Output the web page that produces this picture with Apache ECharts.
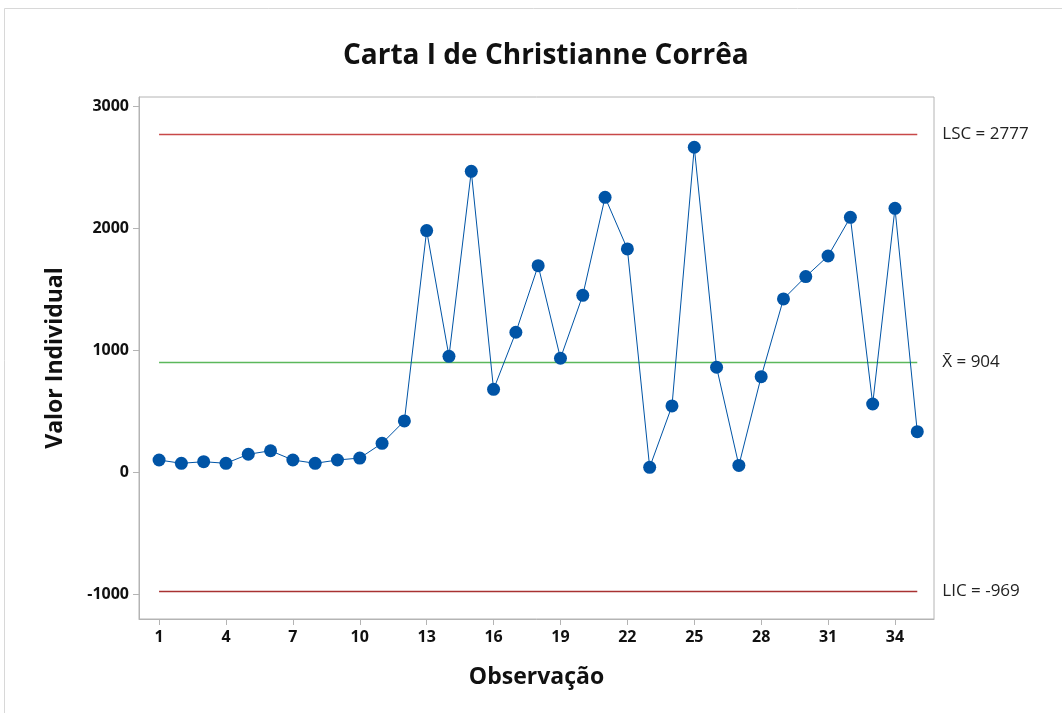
<!DOCTYPE html>
<html>
<head>
<meta charset="utf-8">
<script src="https://cdn.jsdelivr.net/npm/echarts@6/dist/echarts.min.js"></script>
<style>
html, body { margin: 0; padding: 0; background: #fff; }
#main { width: 1062px; height: 713px; }
</style>
</head>
<body>
<div id="main"></div>
<script>
// observacoes 1..35
var observacoes = [];
for (var i = 1; i <= 35; i++) observacoes.push(i);

var valores = [104, 77, 90, 77, 151, 180, 104, 77, 104, 120,
               241, 424, 1984, 954, 2470, 683, 1151, 1697, 938, 1454,
               2257, 1834, 44, 547, 2667, 864, 60, 787, 1424, 1607,
               1776, 2093, 563, 2167, 336];

var lsc = 2777;
var media = 904;
var lic = -969;

var xTicks = [1, 4, 7, 10, 13, 16, 19, 22, 25, 28, 31, 34];
var yTicks = [-1000, 0, 1000, 2000, 3000];

var fonte = '"Open Sans", "Noto Sans", sans-serif';

var pontos = [];
for (var j = 0; j < valores.length; j++) {
	pontos.push([observacoes[j], valores[j]]);
}

function linhaControle(valor, cor, texto) {
	return [ {
		coord : [ 1, valor ],
		lineStyle : { color : cor, width : 1.3, type : 'solid' },
		label : {
			show : true,
			position : 'end',
			distance : 25,
			formatter : texto,
			color : '#222',
			fontSize : 17,
			fontFamily : fonte
		}
	}, {
		coord : [ 35, valor ]
	} ];
}

var chart = echarts.init(document.getElementById('main'));

var option = {
	backgroundColor : '#fff',
	animation : false,
	title : {
		text : 'Carta I de Christianne Corrêa',
		left : 338,
		top : 37,
		textStyle : {
			fontFamily : fonte,
			fontSize : 28,
			fontWeight : 'bold',
			color : '#111'
		}
	},
	graphic : [ {
		type : 'polyline',
		shape : { points : [ [ 4.5, 713 ], [ 4.5, 8.5 ], [ 1062, 8.5 ] ] },
		style : { stroke : '#d8d8d8', lineWidth : 1, fill : null },
		silent : true
	} ],
	grid : {
		left : 139,
		right : 128,
		top : 97,
		bottom : 94,
		show : true,
		borderColor : '#b4b4b4',
		borderWidth : 1
	},
	xAxis : {
		type : 'value',
		min : 0.1,
		max : 35.75,
		name : 'Observação',
		nameLocation : 'middle',
		nameGap : 47,
		nameTextStyle : {
			fontFamily : fonte,
			fontSize : 23,
			fontWeight : 'bold',
			color : '#111'
		},
		axisLine : { show : true, onZero : false, lineStyle : { color : '#b4b4b4' } },
		axisTick : {
			show : true,
			length : 6,
			customValues : xTicks,
			lineStyle : { color : '#b4b4b4' }
		},
		axisLabel : {
			customValues : xTicks,
			margin : 10,
			fontFamily : fonte,
			fontSize : 16,
			fontWeight : 'bold',
			color : '#111'
		},
		splitLine : { show : false }
	},
	yAxis : {
		type : 'value',
		min : -1199,
		max : 3079,
		name : 'Valor Individual',
		nameLocation : 'middle',
		nameGap : 72,
		nameTextStyle : {
			fontFamily : fonte,
			fontSize : 23,
			fontWeight : 'bold',
			color : '#111'
		},
		axisLine : { show : true, onZero : false, lineStyle : { color : '#b4b4b4' } },
		axisTick : {
			show : true,
			length : 6,
			customValues : yTicks,
			lineStyle : { color : '#b4b4b4' }
		},
		axisLabel : {
			customValues : yTicks,
			margin : 10,
			formatter : function (v) { return String(v); },
			fontFamily : fonte,
			fontSize : 16,
			fontWeight : 'bold',
			color : '#111'
		},
		splitLine : { show : false }
	},
	series : [ {
		name : 'I',
		type : 'line',
		data : pontos,
		symbol : 'circle',
		symbolSize : 13,
		itemStyle : { color : '#0054a6' },
		lineStyle : { color : '#0054a6', width : 1 },
		z : 5,
		markLine : {
			silent : true,
			symbol : [ 'none', 'none' ],
			z : 2,
			data : [
				linhaControle(lsc, '#c84848', 'LSC = ' + lsc),
				linhaControle(media, '#5cb85c', 'X\u0304 = ' + media),
				linhaControle(lic, '#a83232', 'LIC = ' + lic)
			]
		}
	} ]
};

chart.setOption(option);
</script>
</body>
</html>
